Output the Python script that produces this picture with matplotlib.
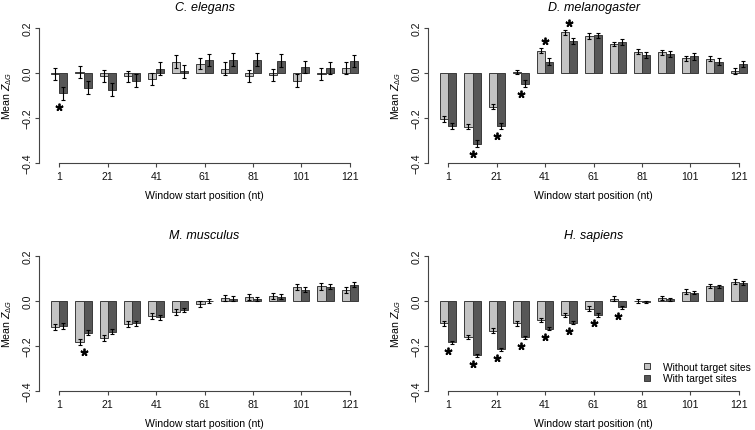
import matplotlib
matplotlib.use("Agg")
import matplotlib.pyplot as plt
from matplotlib.patches import Patch
import numpy as np

plt.rcParams['font.family'] = ['Liberation Sans', 'DejaVu Sans']
plt.rcParams['mathtext.fontset'] = 'custom'
plt.rcParams['mathtext.rm'] = 'Liberation Sans'
plt.rcParams['mathtext.it'] = 'Liberation Sans:italic'

# window start positions (nt)
windows = [1, 11, 21, 31, 41, 51, 61, 71, 81, 91, 101, 111, 121]
tick_labels = ['1', '21', '41', '61', '81', '101', '121']
species = ['C. elegans', 'D. melanogaster', 'M. musculus', 'H. sapiens']

# C. elegans
ce_without = [-0.005, 0.003, -0.013, -0.015, -0.027, 0.051, 0.042, 0.020, -0.012, -0.010, -0.034, -0.006, 0.024]
ce_without_err = [0.026, 0.027, 0.028, 0.026, 0.027, 0.027, 0.025, 0.027, 0.027, 0.026, 0.028, 0.027, 0.027]
ce_with = [-0.090, -0.066, -0.074, -0.034, 0.019, 0.007, 0.057, 0.060, 0.059, 0.055, 0.025, 0.023, 0.054]
ce_with_err = [0.030, 0.029, 0.029, 0.030, 0.028, 0.028, 0.028, 0.028, 0.029, 0.028, 0.027, 0.027, 0.028]
ce_sig = [1, 0, 0, 0, 0, 0, 0, 0, 0, 0, 0, 0, 0]

# D. melanogaster
dm_without = [-0.203, -0.239, -0.150, 0.005, 0.100, 0.181, 0.164, 0.129, 0.095, 0.092, 0.065, 0.064, 0.008]
dm_without_err = [0.013, 0.012, 0.012, 0.010, 0.011, 0.011, 0.012, 0.011, 0.012, 0.012, 0.012, 0.012, 0.013]
dm_with = [-0.237, -0.315, -0.236, -0.047, 0.051, 0.142, 0.167, 0.137, 0.080, 0.083, 0.074, 0.051, 0.039]
dm_with_err = [0.014, 0.015, 0.014, 0.014, 0.014, 0.014, 0.013, 0.013, 0.013, 0.014, 0.014, 0.014, 0.014]
dm_sig = [0, 1, 1, 1, 1, 1, 0, 0, 0, 0, 0, 0, 0]

# M. musculus
mm_without = [-0.117, -0.181, -0.166, -0.103, -0.068, -0.048, -0.013, 0.013, 0.019, 0.022, 0.062, 0.065, 0.050]
mm_without_err = [0.013, 0.013, 0.013, 0.013, 0.013, 0.013, 0.013, 0.013, 0.013, 0.013, 0.013, 0.014, 0.013]
mm_with = [-0.112, -0.141, -0.137, -0.100, -0.072, -0.040, -0.001, 0.011, 0.010, 0.020, 0.051, 0.064, 0.073]
mm_with_err = [0.012, 0.010, 0.011, 0.010, 0.011, 0.010, 0.010, 0.010, 0.010, 0.011, 0.010, 0.010, 0.010]
mm_sig = [0, 1, 0, 0, 0, 0, 0, 0, 0, 0, 0, 0, 0]

# H. sapiens
hs_without = [-0.100, -0.159, -0.132, -0.100, -0.085, -0.062, -0.034, 0.011, -0.001, 0.013, 0.042, 0.067, 0.086]
hs_without_err = [0.010, 0.010, 0.010, 0.010, 0.010, 0.010, 0.010, 0.010, 0.010, 0.010, 0.010, 0.010, 0.010]
hs_with = [-0.184, -0.242, -0.214, -0.161, -0.124, -0.097, -0.062, -0.028, -0.004, 0.007, 0.036, 0.065, 0.080]
hs_with_err = [0.007, 0.008, 0.007, 0.007, 0.007, 0.007, 0.007, 0.006, 0.004, 0.006, 0.007, 0.007, 0.007]
hs_sig = [1, 1, 1, 1, 1, 1, 1, 1, 0, 0, 0, 0, 0]

panels = [
    (ce_without, ce_without_err, ce_with, ce_with_err, ce_sig),
    (dm_without, dm_without_err, dm_with, dm_with_err, dm_sig),
    (mm_without, mm_without_err, mm_with, mm_with_err, mm_sig),
    (hs_without, hs_without_err, hs_with, hs_with_err, hs_sig),
]

light = '#c3c3c3'
dark = '#575757'
edge = '#3a3a3a'
axis_col = '#444444'

fig = plt.figure(figsize=(7.55, 4.31), dpi=100)
positions = [
    [0.0517, 0.6195, 0.4384, 0.3132],
    [0.5669, 0.6195, 0.4384, 0.3132],
    [0.0517, 0.0905, 0.4384, 0.3132],
    [0.5669, 0.0905, 0.4384, 0.3132],
]

bw = 1 / 3
x = np.arange(len(windows))

for pos, name, (wo, wo_e, wi, wi_e, sig) in zip(positions, species, panels):
    ax = fig.add_axes(pos)
    wo, wo_e, wi, wi_e = map(np.array, (wo, wo_e, wi, wi_e))
    ax.bar(x - bw / 2, wo, width=bw, color=light, edgecolor=edge, linewidth=0.7)
    ax.bar(x + bw / 2, wi, width=bw, color=dark, edgecolor=edge, linewidth=0.7)
    ax.errorbar(x - bw / 2, wo, yerr=wo_e, fmt='none', ecolor='black',
                elinewidth=0.8, capsize=1.6, capthick=0.8)
    ax.errorbar(x + bw / 2, wi, yerr=wi_e, fmt='none', ecolor='black',
                elinewidth=0.8, capsize=1.6, capthick=0.8)

    # asterisk beyond the bar that reaches further from zero
    for i in range(len(windows)):
        if not sig[i]:
            continue
        if abs(wo[i]) >= abs(wi[i]):
            v, e = wo[i], wo_e[i]
        else:
            v, e = wi[i], wi_e[i]
        ys = v + np.sign(v) * (e + 0.031)
        ax.plot(x[i], ys, marker=(5, 2, 0), markersize=5.5, mew=1.3,
                color='black', clip_on=False)

    ax.set_xlim(-0.84, 12.84)
    ax.set_ylim(-0.4, 0.2)
    ax.set_xticks(x[::2])
    ax.set_xticklabels(tick_labels)
    ax.set_yticks([-0.4, -0.2, 0.0, 0.2])
    ax.set_yticklabels(['\u22120.4', '\u22120.2', '0.0', '0.2'])
    for s in ['top', 'right']:
        ax.spines[s].set_visible(False)
    ax.spines['bottom'].set_bounds(0, 12)
    ax.spines['left'].set_bounds(-0.4, 0.2)
    for s in ['bottom', 'left']:
        ax.spines[s].set_color(axis_col)
        ax.spines[s].set_linewidth(0.8)
    ax.tick_params(axis='x', length=3, width=0.8, color=axis_col,
                   labelsize=7.6, pad=3, labelcolor='#111111')
    ax.tick_params(axis='y', length=3, width=0.8, color=axis_col,
                   labelsize=7.6, pad=1.5, labelcolor='#111111')
    for lab in ax.get_yticklabels():
        lab.set_rotation(90)
        lab.set_va('center')
    ax.set_xlabel('Window start position (nt)', fontsize=7.6, labelpad=6)
    ax.set_ylabel(r'Mean $Z_{\Delta G}$', fontsize=7.6, labelpad=6)
    ax.set_title(name, fontsize=9, style='italic', pad=13)

handles = [Patch(facecolor=light, edgecolor=edge, linewidth=0.7),
           Patch(facecolor=dark, edgecolor=edge, linewidth=0.7)]
fig.legend(handles, ['Without target sites', 'With target sites'],
           loc='center left', bbox_to_anchor=(0.853, 0.1334), frameon=False,
           fontsize=7.4, handlelength=0.55, handleheight=0.55,
           handletextpad=1.3, labelspacing=0.15, borderpad=0, borderaxespad=0)

fig.savefig('out.png', dpi=100)
